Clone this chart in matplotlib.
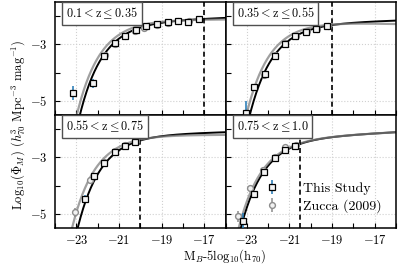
import numpy as np
import matplotlib
matplotlib.use("Agg")
import matplotlib.pyplot as plt
from matplotlib.ticker import FixedLocator

plt.rcParams["font.family"] = "serif"
plt.rcParams["font.serif"] = ["cmr10"]
plt.rcParams["mathtext.fontset"] = "cm"
plt.rcParams["axes.formatter.use_mathtext"] = True

# ── Data ──────────────────────────────────────────────────────────────
z_labels = [r"$\mathrm{0.1}<\mathrm{z}\leq\mathrm{0.35}$",
            r"$\mathrm{0.35}<\mathrm{z}\leq\mathrm{0.55}$",
            r"$\mathrm{0.55}<\mathrm{z}\leq\mathrm{0.75}$",
            r"$\mathrm{0.75}<\mathrm{z}\leq\mathrm{1.0}$"]
mag_limit = [-17.0, -19.0, -20.0, -20.5]

# this study: binned LF
m1 = [-23.18, -22.20, -21.69, -21.21, -20.71, -20.20, -19.73, -19.22, -18.71, -18.24, -17.76, -17.25]
p1 = [-4.73, -4.38, -3.41, -2.96, -2.70, -2.49, -2.35, -2.29, -2.22, -2.16, -2.21, -2.10]
e1 = [0.25, 0.15, 0.06, 0.04, 0.03, 0.03, 0.03, 0.03, 0.03, 0.03, 0.03, 0.03]
m2 = [-23.06, -22.67, -22.16, -21.69, -21.22, -20.74, -20.24, -19.76, -19.26]
p2 = [-5.42, -4.52, -4.05, -3.41, -2.99, -2.69, -2.55, -2.46, -2.34]
e2 = [0.42, 0.10, 0.07, 0.05, 0.03, 0.03, 0.03, 0.03, 0.03]
m3 = [-22.59, -22.15, -21.69, -21.18, -20.71, -20.24]
p3 = [-4.47, -3.65, -3.20, -2.80, -2.59, -2.44]
e3 = [0.12, 0.07, 0.05, 0.03, 0.03, 0.03]
m4 = [-23.18, -22.67, -22.20, -21.69, -21.22, -20.75]
p4 = [-5.26, -4.30, -3.53, -3.02, -2.74, -2.59]
e4 = [0.30, 0.10, 0.06, 0.05, 0.03, 0.03]

# Zucca (2009)
zm1 = [-21.65, -21.20, -20.71, -20.25, -19.81, -19.21, -18.72, -18.22, -17.72]
zp1 = [-3.38, -2.98, -2.70, -2.52, -2.43, -2.31, -2.24, -2.19, -2.17]
zm2 = [-22.20, -21.70, -21.20, -20.70, -20.20, -19.70, -19.20]
zp2 = [-4.10, -3.38, -2.95, -2.70, -2.53, -2.44, -2.35]
zm3 = [-23.05, -22.35, -21.70, -21.20, -20.70, -20.20]
zp3 = [-4.95, -3.80, -3.15, -2.77, -2.58, -2.42]
zm4 = [-23.40, -22.85, -22.25, -21.70, -21.20, -20.70]
zp4 = [-5.09, -4.10, -3.45, -2.98, -2.62, -2.57]
ze1 = [0.03] * len(zm1)
ze2 = [0.03] * len(zm2)
ze3 = [0.15, 0.06, 0.04, 0.03, 0.03, 0.03]
ze4 = [0.20, 0.08, 0.04, 0.03, 0.03, 0.03]

# Schechter fits: (log phi*, M*, alpha)
fit_ours = [(-2.151, -20.65, -1.07), (-2.230, -20.70, -1.06),
            (-2.164, -20.75, -1.05), (-2.276, -21.15, -1.10)]
fit_zucca = [(-2.079, -20.75, -1.00), (-2.144, -20.80, -0.95),
             (-2.164, -21.00, -1.00), (-2.281, -21.25, -1.10)]

ours = [(m1, p1, e1), (m2, p2, e2), (m3, p3, e3), (m4, p4, e4)]
zucca = [(zm1, zp1, ze1), (zm2, zp2, ze2), (zm3, zp3, ze3), (zm4, zp4, ze4)]


def log_schechter(M, logphi, mstar, alpha):
    x = 10 ** (0.4 * (mstar - M))
    return np.log10(0.4 * np.log(10) * 10 ** logphi * x ** (alpha + 1) * np.exp(-x))


fig, axes = plt.subplots(2, 2, figsize=(3.99, 2.66), dpi=100, sharex=True, sharey=True)
fig.subplots_adjust(left=0.138, right=0.9925, top=0.9925, bottom=0.143, wspace=0, hspace=0)

mgrid = np.linspace(-24, -16, 400)
for i, ax in enumerate(axes.flat):
    ax.plot(mgrid, log_schechter(mgrid, *fit_ours[i]), color="k", lw=1.4, zorder=2)
    ax.plot(mgrid, log_schechter(mgrid, *fit_zucca[i]), color="#808080", lw=1.6, alpha=0.75, zorder=2)
    ax.axvline(mag_limit[i], color="k", ls=(0, (3, 2)), lw=1.2, zorder=2)

    zm, zp, ze = zucca[i]
    hz = ax.errorbar(zm, zp, yerr=ze, fmt="o", ms=4.2, mfc="#f2f2f2", mec="#8c8c8c",
                     ecolor="#8c8c8c", elinewidth=1.1, mew=1.0, zorder=3, label="Zucca (2009)")
    m, p, e = ours[i]
    ho = ax.errorbar(m, p, yerr=e, fmt="s", ms=4.2, mfc="#f4f4f4", mec="k",
                     ecolor="#1f77b4", elinewidth=1.1, mew=0.9, zorder=4, label="This Study")

    ax.text(0.065, 0.965, z_labels[i], transform=ax.transAxes, ha="left", va="top",
            fontsize=8.8, zorder=6,
            bbox=dict(boxstyle="square,pad=0.3", fc="white", ec="#505050", lw=1.0))

    ax.set_xlim(-24, -16)
    ax.set_ylim(-5.5, -1.5)
    ax.xaxis.set_major_locator(FixedLocator([-23, -21, -19, -17]))
    ax.xaxis.set_minor_locator(FixedLocator([-24, -22, -20, -18, -16]))
    ax.yaxis.set_major_locator(FixedLocator([-5, -3]))
    ax.yaxis.set_minor_locator(FixedLocator([-4, -2]))
    ax.tick_params(which="both", direction="in", length=3.5, width=0.8,
                   labelsize=9, pad=5.5)
    ax.tick_params(axis="x", which="both", pad=4.5)
    ax.grid(which="major", color="#d0d0d0", ls=":", lw=0.8)
    for s in ax.spines.values():
        s.set_linewidth(1.1)

axes[1, 1].legend([ho, hz], ["This Study", "Zucca (2009)"], loc="lower right",
                  bbox_to_anchor=(0.962, 0.06), frameon=False, fontsize=10,
                  handletextpad=1.2, borderaxespad=0.2, labelspacing=0.3)

fig.text(0.045, 0.53, r"Log$_{10}$($\Phi_M$) ($h^3_{70}$ Mpc$^{-3}$ mag$^{-1}$)",
         rotation=90, ha="center", va="center", fontsize=9)
fig.text(0.564, 0.002, r"M$_B$-5log$_{10}$(h$_{70}$)", ha="center", va="bottom", fontsize=9)

fig.savefig("out.png", dpi=100)
